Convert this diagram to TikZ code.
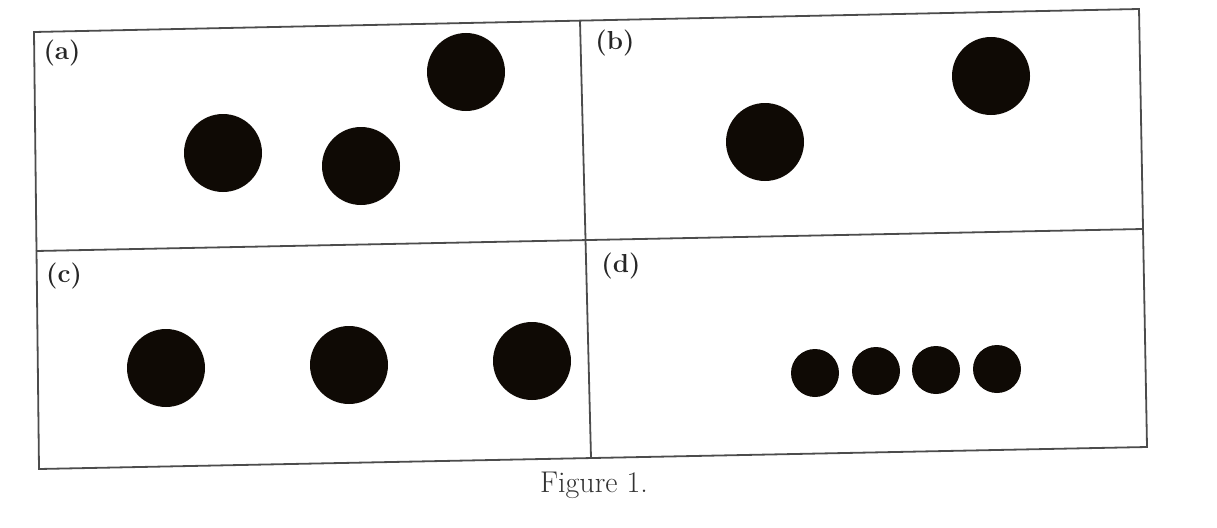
\documentclass[tikz,border=0pt]{standalone}
\usepackage{fontspec}
\begin{document}
\begin{tikzpicture}[x=1pt,y=-1pt,
  frame/.style={draw=black!70, line width=1.8pt, line join=miter},
  dot/.style={circle, fill=black!92!brown, inner sep=0pt, minimum size=#1},
  lab/.style={font=\bfseries\fontsize{26}{30}\selectfont, text=black!85},
  figcaption/.style={font=\fontsize{30}{34}\selectfont, text=black!80}]
\useasboundingbox (0,0) rectangle (1217,527);
% frame corners
\coordinate (TL) at (34,32);
\coordinate (TR) at (1139,9);
\coordinate (BR) at (1147,447);
\coordinate (BL) at (39,469);
\coordinate (TM) at (580,21);
\coordinate (BM) at (591,458);
\coordinate (LM) at (36,251);
\coordinate (RM) at (1143,229);
\draw[frame] (TL) -- (TR) -- (BR) -- (BL) -- cycle;
\draw[frame] (TM) -- (BM);
\draw[frame] (LM) -- (RM);
% labels
\node[lab] (la) at (62,53) {(a)};
\node[lab] (lb) at (615,43) {(b)};
\node[lab] (lc) at (64,276) {(c)};
\node[lab] (ld) at (621,266) {(d)};
% (a)
\node[dot=78pt] (a1) at (223,153) {};
\node[dot=78pt] (a2) at (361,166) {};
\node[dot=78pt] (a3) at (466,72) {};
% (b)
\node[dot=78pt] (b1) at (765,142) {};
\node[dot=78pt] (b2) at (991,76) {};
% (c)
\node[dot=78pt] (c1) at (166,368) {};
\node[dot=78pt] (c2) at (349,365) {};
\node[dot=78pt] (c3) at (532,361) {};
% (d)
\node[dot=48pt] (d1) at (815,373) {};
\node[dot=48pt] (d2) at (876,371) {};
\node[dot=48pt] (d3) at (936,370) {};
\node[dot=48pt] (d4) at (997,369) {};
% caption
\node[figcaption] (fig) at (594,485) {Figure 1.};
\end{tikzpicture}
\end{document}
